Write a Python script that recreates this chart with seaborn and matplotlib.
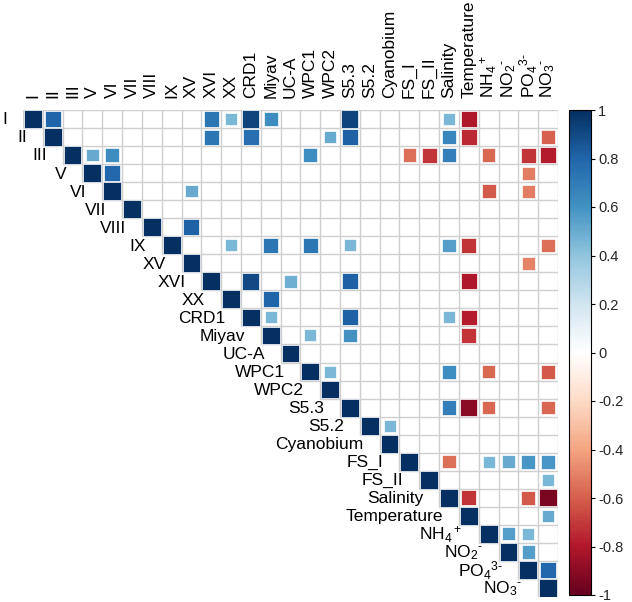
import numpy as np
import pandas as pd
import matplotlib
matplotlib.use("Agg")
import matplotlib.pyplot as plt
import seaborn as sns
from matplotlib.colors import LinearSegmentedColormap, Normalize
from matplotlib.cm import ScalarMappable

# ---------------- data ----------------
variables = ["I", "II", "III", "V", "VI", "VII", "VIII", "IX", "XV", "XVI", "XX",
             "CRD1", "Miyav", "UC-A", "WPC1", "WPC2", "S5.3", "S5.2", "Cyanobium",
             "FS_I", "FS_II", "Salinity", "Temperature", "NH4", "NO2", "PO4", "NO3"]
display_labels = ["I", "II", "III", "V", "VI", "VII", "VIII", "IX", "XV", "XVI", "XX",
                  "CRD1", "Miyav", "UC-A", "WPC1", "WPC2", "S5.3", "S5.2", "Cyanobium",
                  "FS_I", "FS_II", "Salinity", "Temperature",
                  "NH$_4$$^+$", "NO$_2$$^{\u2010}$", "PO$_4$$^{3\u2010}$", "NO$_3$$^{\u2010}$"]

corr_row = ["I", "I", "I", "I", "I", "I", "I", "I",
            "II", "II", "II", "II", "II", "II", "II",
            "III", "III", "III", "III", "III", "III", "III", "III", "III",
            "V", "V",
            "VI", "VI", "VI",
            "VIII",
            "IX", "IX", "IX", "IX", "IX", "IX", "IX",
            "XV",
            "XVI", "XVI", "XVI", "XVI",
            "XX",
            "CRD1", "CRD1", "CRD1", "CRD1",
            "Miyav", "Miyav", "Miyav",
            "WPC1", "WPC1", "WPC1", "WPC1",
            "S5.3", "S5.3", "S5.3", "S5.3",
            "S5.2",
            "FS_I", "FS_I", "FS_I", "FS_I", "FS_I",
            "FS_II",
            "Salinity", "Salinity", "Salinity",
            "Temperature",
            "NH4", "NH4",
            "NO2",
            "PO4"]
corr_col = ["II", "XVI", "XX", "CRD1", "Miyav", "S5.3", "Salinity", "Temperature",
            "XVI", "CRD1", "WPC2", "S5.3", "Salinity", "Temperature", "NO3",
            "V", "VI", "WPC1", "FS_I", "FS_II", "Salinity", "NH4", "PO4", "NO3",
            "VI", "PO4",
            "XV", "NH4", "PO4",
            "XV",
            "XX", "Miyav", "WPC1", "S5.3", "Salinity", "Temperature", "NO3",
            "PO4",
            "CRD1", "UC-A", "S5.3", "Temperature",
            "Miyav",
            "Miyav", "S5.3", "Salinity", "Temperature",
            "WPC1", "S5.3", "Temperature",
            "WPC2", "Salinity", "NH4", "NO3",
            "Salinity", "Temperature", "NH4", "NO3",
            "Cyanobium",
            "Salinity", "NH4", "NO2", "PO4", "NO3",
            "NO3",
            "Temperature", "PO4", "NO3",
            "NO3",
            "NO2", "PO4",
            "PO4",
            "NO3"]
corr_r = [0.80, 0.72, 0.45, 0.92, 0.62, 0.92, 0.45, -0.80,
          0.72, 0.75, 0.50, 0.82, 0.65, -0.75, -0.60,
          0.50, 0.62, 0.62, -0.55, -0.72, 0.68, -0.58, -0.72, -0.78,
          0.78, -0.52,
          0.50, -0.62, -0.52,
          0.82,
          0.45, 0.72, 0.72, 0.45, 0.55, -0.72, -0.55,
          -0.50,
          0.90, 0.48, 0.82, -0.80,
          0.80,
          0.45, 0.82, 0.45, -0.78,
          0.45, 0.60, -0.72,
          0.45, 0.62, -0.58, -0.62,
          0.68, -0.90, -0.58, -0.58,
          0.45,
          -0.55, 0.45, 0.50, 0.58, 0.58,
          0.45,
          -0.72, -0.62, -0.95,
          0.50,
          0.55, 0.45,
          0.55,
          0.78]

# ---------------- table ----------------
n = len(variables)
idx = {v: i for i, v in enumerate(variables)}
rows = [idx[v] for v in variables] + [idx[v] for v in corr_row]
cols = [idx[v] for v in variables] + [idx[v] for v in corr_col]
vals = [1.0] * n + corr_r
df = pd.DataFrame({"x": np.array(cols) + 0.5, "y": np.array(rows) + 0.5, "r": vals})
df["absr"] = df["r"].abs()

cmap = LinearSegmentedColormap.from_list(
    "corrRdBu", ["#67001F", "#B2182B", "#D6604D", "#F4A582", "#FDDBC7", "#FFFFFF",
                 "#D1E5F0", "#92C5DE", "#4393C3", "#2166AC", "#053061"], N=200)

# ---------------- figure ----------------
sns.set_style("white")
plt.rcParams["font.family"] = ["Liberation Sans", "DejaVu Sans"]
plt.rcParams["mathtext.fontset"] = "custom"
plt.rcParams["mathtext.rm"] = "Liberation Sans"
plt.rcParams["mathtext.default"] = "regular"

W, H = 632, 602
fig = plt.figure(figsize=(W / 100, H / 100), dpi=100)
gl, gt, gw, gh = 23, 110, 535, 487
ax = fig.add_axes([gl / W, (H - gt - gh) / H, gw / W, gh / H])

# grid of upper triangle
gcol = "#CFCFCF"
for k in range(n + 1):
    ax.hlines(k, max(k - 1, 0), n, color=gcol, lw=1.0, zorder=1)
    ax.vlines(k, 0, min(k + 1, n), color=gcol, lw=1.0, zorder=1)

side_px = 17.8
smax = (side_px * 0.72) ** 2
sns.scatterplot(data=df, x="x", y="y", hue="r", palette=cmap, hue_norm=(-1, 1),
                size="absr", sizes=(0, smax), size_norm=(0, 1), marker="s",
                edgecolor="white", linewidth=0.5, legend=False, ax=ax, zorder=3)
ax.set_xlim(0, n)
ax.set_ylim(n, 0)
ax.set_axis_off()

fs = 12.5
for j, lab in enumerate(display_labels):
    ax.text(j + 0.5, -0.65, lab, rotation=90, ha="center", va="bottom",
            fontsize=fs, color="black")
for i, lab in enumerate(display_labels):
    ax.text(i - 0.8, i + 0.55, lab, ha="right", va="center", fontsize=fs,
            color="black")

# colorbar
cax = fig.add_axes([569 / W, (H - 595) / H, 22 / W, 485 / H])
sm = ScalarMappable(norm=Normalize(-1, 1), cmap=cmap)
cb = fig.colorbar(sm, cax=cax)
ticks = np.round(np.arange(-1, 1.01, 0.2), 1)
cb.set_ticks(ticks)
cb.set_ticklabels(["-1", "-0.8", "-0.6", "-0.4", "-0.2", "0", "0.2", "0.4", "0.6", "0.8", "1"])
cb.ax.tick_params(labelsize=10.5, length=3, width=0.8, direction="out", color="black", pad=2)
cb.outline.set_edgecolor("black")
cb.outline.set_linewidth(0.8)

fig.savefig("out.png", dpi=100)
